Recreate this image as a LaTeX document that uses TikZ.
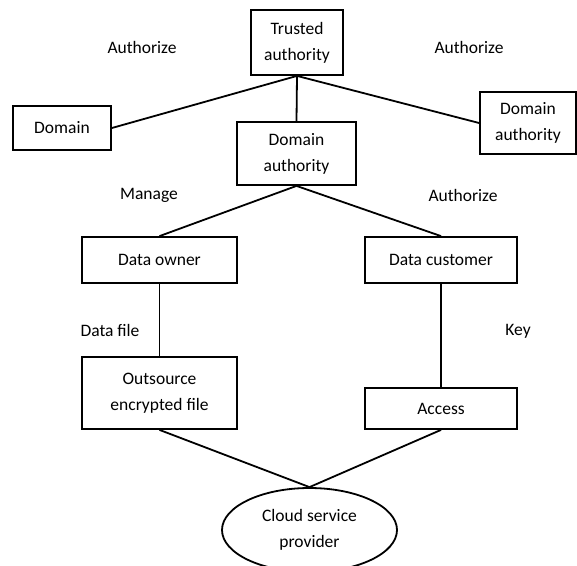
\documentclass[tikz,border=0pt]{standalone}
\usepackage{fontspec}
\setmainfont{Carlito}
\usetikzlibrary{shapes.geometric}
\begin{document}
\begin{tikzpicture}[x=1pt,y=-1pt,
  every node/.style={font=\fontsize{17.5}{26}\selectfont, inner sep=0pt},
  box/.style={draw, line width=1.8pt, align=center},
  lbl/.style={},
  conn/.style={line width=1.8pt}]
\useasboundingbox (0,0) rectangle (577,565);
\node[box, minimum width=92, minimum height=65] (ta) at (297,42.5) {Trusted\\authority};
\node[box, minimum width=98, minimum height=44] (dom) at (62,128) {Domain};
\node[box, minimum width=119, minimum height=63] (da) at (296.5,153.5) {Domain\\authority};
\node[box, minimum width=96, minimum height=62] (dar) at (528,123) {Domain\\authority};
\node[box, minimum width=155, minimum height=46] (do) at (159.5,260) {Data owner};
\node[box, minimum width=152, minimum height=46] (dc) at (441,260) {Data customer};
\node[box, minimum width=155, minimum height=72] (oef) at (159.5,393) {Outsource\\encrypted file};
\node[box, minimum width=152, minimum height=41] (acc) at (441,408.5) {Access};
\node[draw, ellipse, line width=1.8pt, align=center, minimum width=175, minimum height=84] (csp) at (309.5,530) {Cloud service\\provider};

\node[lbl] (l1) at (142,47) {Authorize};
\node[lbl] (l2) at (469,47) {Authorize};
\node[lbl] (l3) at (149,195) {Manage};
\node[lbl] (l4) at (463,195) {Authorize};
\node[lbl] (l5) at (110,330) {Data file};
\node[lbl] (l6) at (518,331) {Key};

\draw[conn] (ta.south) -- (dom.east);
\draw[conn] (ta.south) -- (dar.west);
\draw[conn] (ta.south) -- (da.north);
\draw[conn] (da.south) -- (do.north);
\draw[conn] (da.south) -- (dc.north);
\draw[conn] (do.south) -- (oef.north);
\draw[conn] (dc.south) -- (acc.north);
\draw[conn] (oef.south) -- (csp.north);
\draw[conn] (acc.south) -- (csp.north);
\end{tikzpicture}
\end{document}
